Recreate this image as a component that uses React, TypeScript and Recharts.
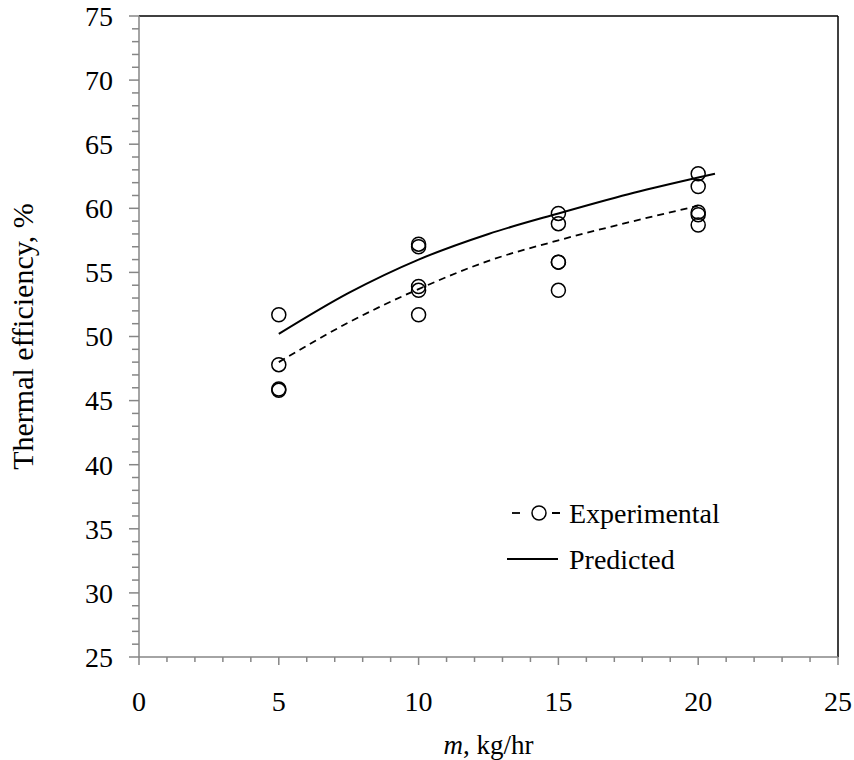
import React from 'react'
import {
  ComposedChart,
  Line,
  Scatter,
  XAxis,
  YAxis,
  ReferenceLine,
  Label
} from 'recharts'

// experimental points
const expX = [5, 5, 5, 5, 10, 10, 10, 10, 10, 15, 15, 15, 15, 15, 20, 20, 20, 20, 20]
const expY = [
  51.7, 47.8, 45.9, 45.8,
  57.2, 57.0, 53.9, 53.6, 51.7,
  59.6, 58.8, 55.8, 55.8, 53.6,
  62.7, 61.7, 59.7, 59.5, 58.7
]

// dashed trend through the experimental data
const trendX = [5, 7.5, 10, 12.5, 15, 17.5, 20]
const trendY = [48.0, 51.1, 53.7, 55.9, 57.5, 58.9, 60.2]

// predicted curve
const predX = [5, 7.5, 10, 12.5, 15, 17.5, 20, 20.6]
const predY = [50.2, 53.4, 56.0, 58.0, 59.6, 61.1, 62.4, 62.7]

const xMajor = [0, 5, 10, 15, 20, 25]
const yMajor = [25, 30, 35, 40, 45, 50, 55, 60, 65, 70, 75]
const xTicks = Array.from({ length: 26 }, (_, i) => i)
const yTicks = Array.from({ length: 51 }, (_, i) => 25 + i)

const experimental = expX.map((x, i) => ({ x, y: expY[i] }))
const trend = trendX.map((x, i) => ({ x, y: trendY[i] }))
const predicted = predX.map((x, i) => ({ x, y: predY[i] }))

const AXIS = '#868686'
const txt = { fontFamily: 'Liberation Serif, Times New Roman, serif', fill: '#000' }

const XTick = (props: any) => {
  const { x, y, payload } = props
  const major = xMajor.includes(payload.value)
  return (
    <g>
      <line x1={x} x2={x} y1={y} y2={y + (major ? 8 : 5)} stroke={AXIS} strokeWidth={1.5} />
      {major && (
        <text x={x} y={y + 44} dy="0.35em" textAnchor="middle" style={{ ...txt, fontSize: 28 }}>
          {payload.value}
        </text>
      )}
    </g>
  )
}

const YTick = (props: any) => {
  const { x, y, payload } = props
  const major = yMajor.includes(payload.value)
  return (
    <g>
      <line x1={x} x2={x - (major ? 10 : 7)} y1={y} y2={y} stroke={AXIS} strokeWidth={1.5} />
      {major && (
        <text x={x - 26} y={y} dy="0.35em" textAnchor="end" style={{ ...txt, fontSize: 28 }}>
          {payload.value}
        </text>
      )}
    </g>
  )
}

const Ring = (props: any) => (
  <circle cx={props.cx} cy={props.cy} r={7} fill="none" stroke="#000" strokeWidth={1.5} />
)

const XTitle = (props: any) => {
  const { viewBox } = props
  return (
    <text x={viewBox.x + viewBox.width / 2} y={viewBox.y + 88} dy="0.35em" textAnchor="middle" style={{ ...txt, fontSize: 27 }}>
      <tspan style={{ fontStyle: 'italic' }}>m</tspan>, kg/hr
    </text>
  )
}

const YTitle = (props: any) => {
  const { viewBox } = props
  const cy = viewBox.y + viewBox.height / 2
  return (
    <text x={22} y={cy} dy="0.35em" textAnchor="middle" style={{ ...txt, fontSize: 30 }} transform={`rotate(-90, 22, ${cy})`}>
      Thermal efficiency, %
    </text>
  )
}

const LegendBox = () => (
  <svg width={260} height={90} style={{ position: 'absolute', left: 500, top: 490 }}>
    <line x1={12} x2={20} y1={23} y2={23} stroke="#000" strokeWidth={1.8} />
    <circle cx={39} cy={23} r={7} fill="none" stroke="#000" strokeWidth={1.5} />
    <line x1={32} x2={60} y1={23} y2={23} stroke="#000" strokeWidth={1.8} strokeDasharray="0 20 8" />
    <text x={69} y={23} dy="0.35em" style={{ ...txt, fontSize: 28 }}>Experimental</text>
    <line x1={7} x2={58} y1={69} y2={69} stroke="#000" strokeWidth={2} />
    <text x={69} y={69} dy="0.35em" style={{ ...txt, fontSize: 28 }}>Predicted</text>
  </svg>
)

export default function App() {
  return (
    <div style={{ position: 'absolute', left: 0, top: 0, width: 854, height: 760, background: '#fff' }}>
      <ComposedChart width={854} height={760} margin={{ top: 16, right: 16, bottom: 73, left: 79 }}>
        <XAxis
          type="number"
          dataKey="x"
          domain={[0, 25]}
          ticks={xTicks}
          interval={0}
          tickSize={0}
          tickMargin={0}
          tick={<XTick />}
          stroke={AXIS}
          strokeWidth={1.5}
          allowDataOverflow
        >
          <Label content={<XTitle />} />
        </XAxis>
        <YAxis
          type="number"
          dataKey="y"
          domain={[25, 75]}
          ticks={yTicks}
          interval={0}
          tickSize={0}
          tickMargin={0}
          tick={<YTick />}
          stroke={AXIS}
          strokeWidth={1.5}
          width={60}
          allowDataOverflow
        >
          <Label content={<YTitle />} />
        </YAxis>
        <ReferenceLine y={75} stroke="#000" strokeWidth={1.5} />
        <ReferenceLine x={25} stroke="#000" strokeWidth={1.5} />
        <Line
          data={trend}
          dataKey="y"
          type="monotone"
          stroke="#000"
          strokeWidth={1.8}
          strokeDasharray="7 5"
          dot={false}
          isAnimationActive={false}
        />
        <Line
          data={predicted}
          dataKey="y"
          type="monotone"
          stroke="#000"
          strokeWidth={2}
          dot={false}
          isAnimationActive={false}
        />
        <Scatter data={experimental} dataKey="y" shape={<Ring />} isAnimationActive={false} />
      </ComposedChart>
      <LegendBox />
    </div>
  )
}
